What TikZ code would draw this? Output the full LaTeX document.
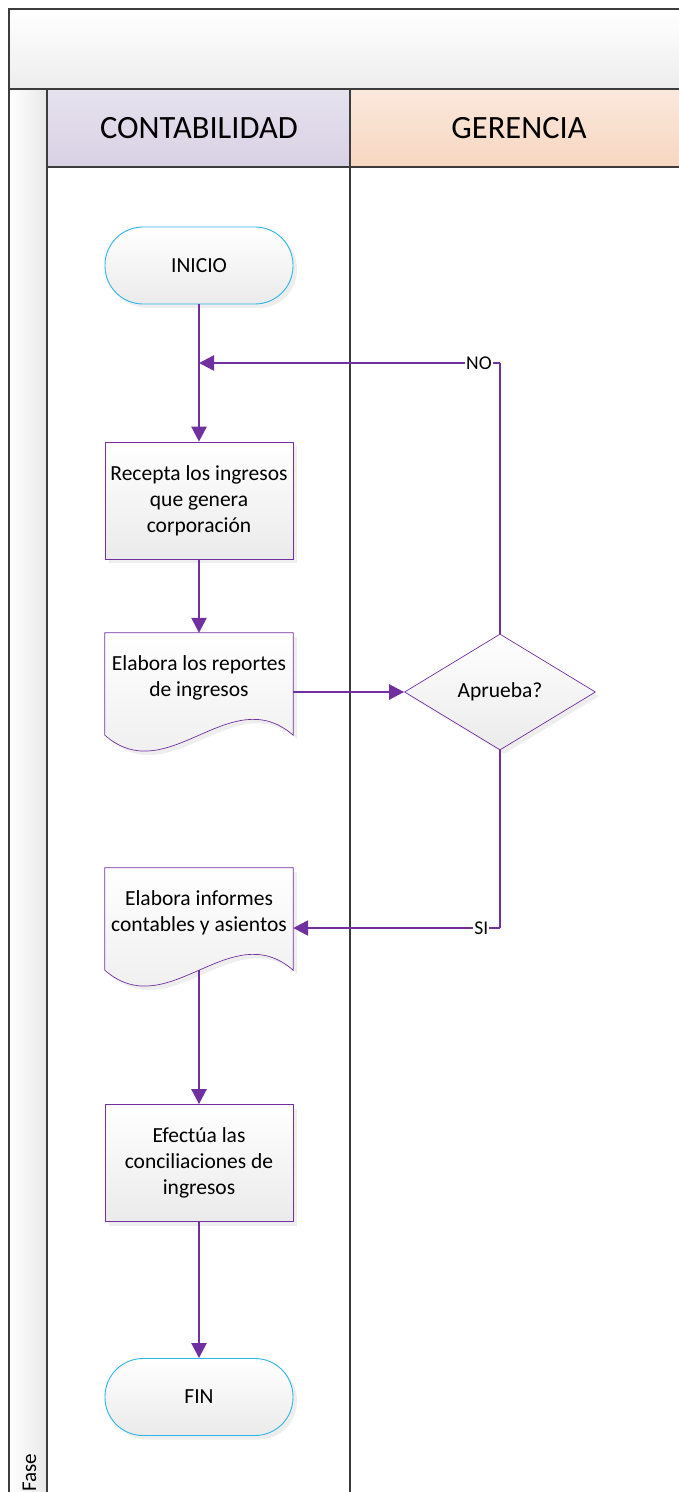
\documentclass[tikz,border=0pt]{standalone}
\usepackage{fontspec}
\setmainfont{Carlito}
\usetikzlibrary{arrows.meta,shapes.geometric,shadows,backgrounds,calc}

\definecolor{flowc}{HTML}{7030A0}
\definecolor{termc}{HTML}{2DB4E8}
\definecolor{lanec}{HTML}{3C3C3C}
\definecolor{contA}{HTML}{E6E2EE}
\definecolor{contB}{HTML}{D8D1E4}
\definecolor{gerA}{HTML}{FBE8DC}
\definecolor{gerB}{HTML}{F7D7C1}

\newcommand\flowfont{\fontsize{21.5}{26}\selectfont}
\newcommand\headfont{\fontsize{32.5}{38}\selectfont}

\tikzset{
  shapefill/.style={top color=white, bottom color=black!8,
    drop shadow={shadow xshift=4pt, shadow yshift=-4pt, fill=black!13}},
  term/.style={rectangle, rounded corners=38pt, minimum width=188pt,
    minimum height=77pt, draw=termc, line width=0.9pt, shapefill, font=\flowfont},
  proc/.style={rectangle, minimum width=188pt, minimum height=117pt,
    draw=flowc, line width=0.7pt, shapefill, align=center, font=\flowfont},
  doctext/.style={rectangle, minimum width=188pt, minimum height=88pt,
    inner sep=0pt, align=center, font=\flowfont},
  docshape/.style={draw=flowc, line width=0.7pt, shapefill},
  decision/.style={diamond, shape aspect=1.65, minimum width=191pt,
    minimum height=116pt, inner sep=0pt, draw=flowc, line width=0.7pt,
    shapefill, font=\flowfont},
  flow/.style={draw=flowc, line width=2.5pt,
    -{Triangle[length=15pt,width=15pt]}},
  flowline/.style={draw=flowc, line width=2.5pt},
  lbl/.style={fill=white, inner sep=1pt, font=\fontsize{19.5}{22}\selectfont},
  lane/.style={draw=lanec, line width=1.3pt},
  hdr/.style={font=\headfont}
}

\begin{document}
\begin{tikzpicture}[x=1pt, y=-1pt]
\useasboundingbox (0,0) rectangle (679,1492);

% swimlane frame
\begin{scope}
  \clip (0,0) rectangle (679,1492);
  \shade[top color=white, bottom color=black!7] (9,9) rectangle (700,89);
  \shade[left color=white, right color=black!9] (9,89) rectangle (47,1500);
  \shade[top color=contA, bottom color=contB] (47,89) rectangle (350,167);
  \shade[top color=gerA, bottom color=gerB] (350,89) rectangle (700,167);
  \draw[lane] (700,9) -- (9,9) -- (9,1500);
  \draw[lane] (9,89) -- (700,89);
  \draw[lane] (47,167) -- (700,167);
  \draw[lane] (47,89) -- (47,1500);
  \draw[lane] (350,89) -- (350,1500);
\end{scope}

\node[hdr] (hcont) at (199,128) {CONTABILIDAD};
\node[hdr] (hger) at (519,128) {GERENCIA};
\node[rotate=90, anchor=base west, font=\fontsize{21}{24}\selectfont] (fase) at (36,1495) {Fase};

% flow steps
\node[term] (start) at (199,265.5) {INICIO};
\node[proc] (p1) at (199,500.5) {Recepta los ingresos\\que genera\\corporación};
\node[doctext] (d1) at (199,678) {Elabora los reportes\\de ingresos};
\node[decision] (dec) at (500,692) {Aprueba?};
\node[doctext] (d2) at (199,913) {Elabora informes\\contables y asientos};
\node[proc] (p2) at (199,1163) {Efectúa las\\conciliaciones de\\ingresos};
\node[term] (end) at (199,1397) {FIN};

% document outlines with wavy bottom
\begin{scope}[on background layer]
  \foreach \d in {d1,d2} {
    \path[docshape] ([yshift=1pt]\d.north west) -- ([yshift=1pt]\d.north east)
      -- ($(\d.south east)+(0,13)$)
      .. controls ($(\d.south east)+(-63,-42)$) and ($(\d.south west)+(63,68)$)
      .. ($(\d.south west)+(0,13)$) -- cycle;
  }
\end{scope}

% connectors
\coordinate (noturn) at (500,363);
\coordinate (siturn) at (500,928);
\draw[flow] (start) -- (p1);
\draw[flow] (p1) -- ([yshift=1pt]d1.north);
\draw[flow] ([yshift=-14pt]d1.east) -- (dec.west);
\draw[flowline] (dec.north) -- (noturn);
\draw[flow] (noturn) -- node[pos=0.07, lbl] {NO} (noturn -| p1.north);
\draw[flowline] (dec.south) -- (siturn);
\draw[flow] (siturn) -- node[pos=0.09, lbl] {SI} ([yshift=-15pt]d2.east);
\draw[flow] ([yshift=-13pt]d2.south) -- (p2);
\draw[flow] (p2) -- (end);
\end{tikzpicture}
\end{document}
